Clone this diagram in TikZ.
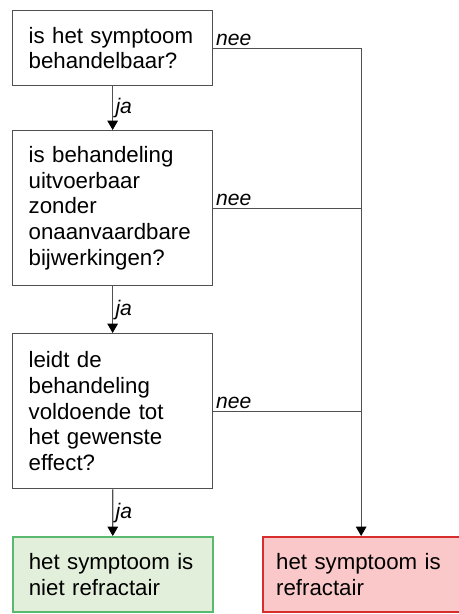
\documentclass[tikz,border=0pt]{standalone}
\usepackage{fontspec}
\setmainfont{Liberation Sans}
\usetikzlibrary{arrows.meta}
\definecolor{lijn}{RGB}{80,80,80}
\definecolor{groenvak}{RGB}{226,239,218}
\definecolor{groenrand}{RGB}{90,185,110}
\definecolor{roodvak}{RGB}{250,200,200}
\definecolor{roodrand}{RGB}{215,45,45}
\tikzset{
  vraag/.style={draw=lijn, line width=1.1pt, anchor=north west, align=left,
    inner xsep=0.48cm, text width=5.04cm, font=\fontsize{19}{22}\selectfont},
  uitkomst/.style={vraag, line width=1.4pt},
  pijl/.style={draw=lijn, line width=0.9pt, -{Triangle[width=9pt,length=8pt,black]}},
  tak/.style={draw=lijn, line width=0.9pt},
  antw/.style={font=\fontsize{18}{20}\selectfont\itshape, inner sep=2pt}
}
\begin{document}
\begin{tikzpicture}[x=0.03cm, y=-0.03cm]
  \useasboundingbox (0,0) rectangle (459,614);
  \node[vraag, minimum height=2.25cm] (v1) at (12,10) {is het symptoom\\behandelbaar?};
  \node[vraag, minimum height=4.65cm] (v2) at (12,130) {is behandeling\\uitvoerbaar\\zonder\\onaanvaardbare\\bijwerkingen?};
  \node[vraag, minimum height=4.65cm] (v3) at (12,333) {leidt de\\behandeling\\voldoende tot\\het gewenste\\effect?};
  \node[uitkomst, draw=groenrand, fill=groenvak, minimum height=2.25cm] (niet) at (12,536) {het symptoom is\\niet refractair};
  \node[uitkomst, draw=roodrand, fill=roodvak, minimum height=2.25cm, inner xsep=0.4cm, text width=5.1cm] (ref) at (262,536) {het symptoom is\\refractair};
  \draw[pijl] (v1) -- node[antw, right] {ja} (v2);
  \draw[pijl] (v2) -- node[antw, right] {ja} (v3);
  \draw[pijl] (v3) -- node[antw, right] {ja} (niet);
  \coordinate (hoek) at (ref.north |- v1.east);
  \draw[pijl] (v1.east) node[antw, anchor=south west] {nee} -- (hoek) -- (ref.north);
  \draw[tak] (v2.east) node[antw, anchor=south west] {nee} -- (v2.east -| hoek);
  \draw[tak] (v3.east) node[antw, anchor=south west] {nee} -- (v3.east -| hoek);
\end{tikzpicture}
\end{document}
